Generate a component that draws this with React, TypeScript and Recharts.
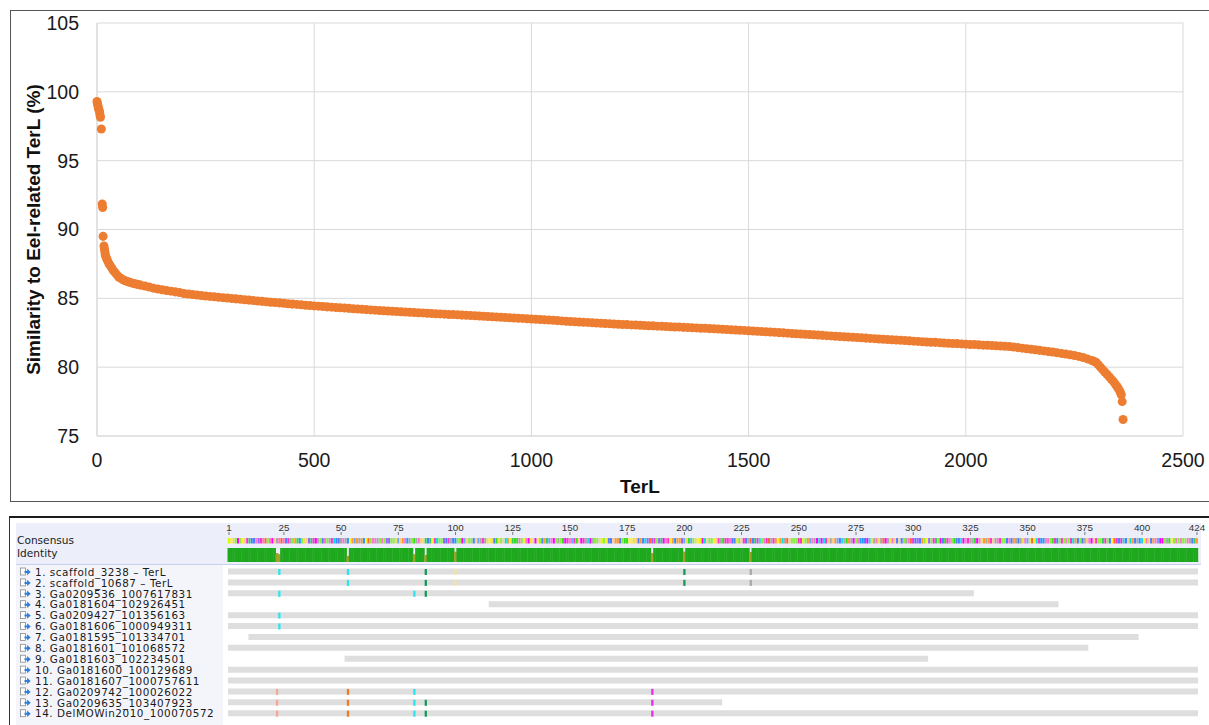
import React from "react";
import {
  ScatterChart,
  Scatter,
  XAxis,
  YAxis,
  ZAxis,
  CartesianGrid,
  BarChart,
  Bar,
  Cell,
} from "recharts";

// ---------- Top chart data ----------
const terlRank = [
  0, 1, 2, 3, 4, 5, 6, 7, 8, 10, 12, 13, 14, 16, 17, 18, 19, 20, 22, 24, 27, 30, 34, 38, 42, 46, 50, 55, 60, 65, 70, 75,
  80, 85, 90, 95, 100, 110, 120, 130, 140, 150, 160, 170, 180, 190,
  200, 210, 220, 230, 240, 250, 260, 270, 280, 290,
  300, 310, 320, 330, 340, 350, 360, 370, 380, 390,
  400, 410, 420, 430, 440, 450, 460, 470, 480, 490,
  500, 510, 520, 530, 540, 550, 560, 570, 580, 590,
  600, 610, 620, 630, 640, 650, 660, 670, 680, 690,
  700, 710, 720, 730, 740, 750, 760, 770, 780, 790,
  800, 810, 820, 830, 840, 850, 860, 870, 880, 890,
  900, 910, 920, 930, 940, 950, 960, 970, 980, 990,
  1000, 1010, 1020, 1030, 1040, 1050, 1060, 1070, 1080, 1090,
  1100, 1110, 1120, 1130, 1140, 1150, 1160, 1170, 1180, 1190,
  1200, 1210, 1220, 1230, 1240, 1250, 1260, 1270, 1280, 1290,
  1300, 1310, 1320, 1330, 1340, 1350, 1360, 1370, 1380, 1390,
  1400, 1410, 1420, 1430, 1440, 1450, 1460, 1470, 1480, 1490,
  1500, 1510, 1520, 1530, 1540, 1550, 1560, 1570, 1580, 1590,
  1600, 1610, 1620, 1630, 1640, 1650, 1660, 1670, 1680, 1690,
  1700, 1710, 1720, 1730, 1740, 1750, 1760, 1770, 1780, 1790,
  1800, 1810, 1820, 1830, 1840, 1850, 1860, 1870, 1880, 1890,
  1900, 1910, 1920, 1930, 1940, 1950, 1960, 1970, 1980, 1990,
  2000, 2010, 2020, 2030, 2040, 2050, 2060, 2070, 2080, 2090,
  2100, 2110, 2120, 2130, 2140, 2150, 2160, 2170, 2180, 2190,
  2200, 2210, 2220, 2230, 2240, 2250, 2260, 2270, 2280, 2290,
  2295, 2300, 2305, 2310, 2315, 2320, 2325, 2330, 2335, 2340, 2344, 2348, 2351, 2354, 2356, 2358, 2360, 2362,
];

const similarity = [
  99.3, 99.15, 99.0, 98.85, 98.75, 98.65, 98.5, 98.3, 98.15, 97.3, 91.85, 91.6, 89.5, 88.8, 88.6, 88.4, 88.2, 88.05,
  87.9, 87.75, 87.55, 87.4, 87.2, 87.0, 86.85, 86.7, 86.55, 86.45, 86.35, 86.28, 86.22, 86.17,
  86.12, 86.08, 86.04, 86.0, 85.96, 85.9, 85.82, 85.74, 85.68, 85.62, 85.57, 85.52, 85.47, 85.42,
  85.35, 85.31, 85.28, 85.24, 85.21, 85.17, 85.14, 85.11, 85.08, 85.05,
  85.02, 84.99, 84.96, 84.93, 84.9, 84.87, 84.84, 84.81, 84.78, 84.75,
  84.72, 84.69, 84.67, 84.64, 84.61, 84.58, 84.56, 84.53, 84.5, 84.48,
  84.45, 84.43, 84.4, 84.38, 84.36, 84.33, 84.31, 84.29, 84.27, 84.24,
  84.22, 84.2, 84.18, 84.16, 84.14, 84.12, 84.1, 84.08, 84.06, 84.04,
  84.02, 84.0, 83.99, 83.97, 83.95, 83.94, 83.92, 83.9, 83.88, 83.87,
  83.85, 83.83, 83.82, 83.8, 83.78, 83.77, 83.75, 83.73, 83.71, 83.7,
  83.68, 83.66, 83.64, 83.63, 83.61, 83.59, 83.57, 83.55, 83.54, 83.52,
  83.5, 83.48, 83.46, 83.44, 83.42, 83.4, 83.38, 83.36, 83.34, 83.32,
  83.3, 83.28, 83.26, 83.25, 83.23, 83.21, 83.19, 83.17, 83.16, 83.14,
  83.12, 83.1, 83.09, 83.07, 83.06, 83.04, 83.03, 83.01, 83.0, 82.98,
  82.97, 82.95, 82.94, 82.92, 82.91, 82.89, 82.88, 82.86, 82.85, 82.83,
  82.82, 82.8, 82.79, 82.77, 82.75, 82.74, 82.72, 82.7, 82.68, 82.67,
  82.65, 82.63, 82.61, 82.59, 82.57, 82.55, 82.53, 82.51, 82.49, 82.47,
  82.45, 82.43, 82.41, 82.39, 82.37, 82.35, 82.33, 82.31, 82.29, 82.27,
  82.25, 82.23, 82.21, 82.19, 82.17, 82.15, 82.13, 82.11, 82.09, 82.07,
  82.05, 82.03, 82.01, 81.99, 81.97, 81.95, 81.93, 81.91, 81.89, 81.87,
  81.85, 81.83, 81.81, 81.8, 81.78, 81.76, 81.74, 81.72, 81.71, 81.69,
  81.67, 81.65, 81.64, 81.62, 81.6, 81.59, 81.57, 81.55, 81.53, 81.52,
  81.5, 81.46, 81.42, 81.38, 81.34, 81.3, 81.26, 81.22, 81.18, 81.14,
  81.1, 81.05, 81.0, 80.95, 80.9, 80.85, 80.78, 80.7, 80.6, 80.48,
  80.42, 80.35, 80.18, 80.0, 79.82, 79.65, 79.48, 79.3, 79.12, 78.95, 78.78, 78.6, 78.45, 78.3, 78.15, 78.0, 77.5, 76.2,
];

const xTicks = [0, 500, 1000, 1500, 2000, 2500];
const yTicks = [75, 80, 85, 90, 95, 100, 105];

// ---------- Alignment panel data ----------
const alignmentLength = 424;
const consensusSeq =
  "MSTLDLSPEQRRAWEAFLADPVAFAREVLGIKLTPWQEDVLRALVENRRVAVKSGHG" +
  "VGKSFLAAVLALWWLLTHPGAKVLIVAPTQRQSENLLWREVRKLLDHPLLRPHVEVT" +
  "STRITLPNGSQIIALSADSPDSLRGQHADLVLIDEAHEIPDEVYDVLLPMLSRRPGG" +
  "RLIISSTPRGRNWFWELWQDAESGKGGWHTIHLTSMDNPLLSPEVIEEARRTLPERV" +
  "FRQEYLAEFVEGSGNVFPLLLEEMLGHAVDYDNEPVPGHRYVIGVDLAKKRDYTVAT" +
  "VFDVTAPRPRLVAFERWRGLSWLEQLDRIEALIRRYDAEVVIDATGVGEPVAELLRA" +
  "RGVRVTAHTFSNEKKAALIERLELALENGRLRVPADPELLQELRSFEREYRPNGRVK" +
  "YSAPRGAHDDLVISLALALLAVRQGNGKPTFEWLDLSKLSAGHSSGRFDFGNTQEVK" +
  "LEKMKGKLRNTHKGGWLSRSPKDPFDEVE";

const residueColors: Record<string, string> = {
  A: "#ff77cc", R: "#4f7dff", N: "#00e0e0", D: "#ff00ff", C: "#ffff00",
  Q: "#33cc66", E: "#ff33cc", G: "#ff9933", H: "#66aaff", I: "#33dd22",
  L: "#88ee44", K: "#2299ff", M: "#ccff00", F: "#ff6633", P: "#ffcc88",
  S: "#ffee33", T: "#eedd55", W: "#9966ff", Y: "#22dddd", V: "#a8a8a8",
};

const rulerTicks = [1, 25, 50, 75, 100, 125, 150, 175, 200, 225, 250, 275, 300, 325, 350, 375, 400, 424];

const identityDipPos = [22, 23, 53, 82, 87, 100, 186, 200, 229];
const identityDipValue = [64, 56, 44, 56, 51, 74, 64, 74, 72];

const rowNames = [
  "1. scaffold_3238 \u2013 TerL",
  "2. scaffold_10687 \u2013 TerL",
  "3. Ga0209536_1007617831",
  "4. Ga0181604_102926451",
  "5. Ga0209427_101356163",
  "6. Ga0181606_1000949311",
  "7. Ga0181595_101334701",
  "8. Ga0181601_101068572",
  "9. Ga0181603_102234501",
  "10. Ga0181600_100129689",
  "11. Ga0181607_1000757611",
  "12. Ga0209742_100026022",
  "13. Ga0209635_103407923",
  "14. DelMOWin2010_100070572",
];
const rowStart = [1, 1, 1, 115, 1, 1, 10, 1, 52, 1, 1, 1, 1, 1];
const rowEnd = [424, 424, 326, 363, 424, 424, 398, 376, 306, 424, 424, 424, 216, 424];

const variantRow = [1, 1, 1, 1, 1, 1, 2, 2, 2, 2, 2, 3, 3, 3, 5, 6, 12, 12, 12, 12, 13, 13, 13, 13, 13, 14, 14, 14, 14, 14];
const variantPos = [23, 53, 87, 100, 200, 229, 53, 87, 100, 200, 229, 23, 82, 87, 23, 23, 22, 53, 82, 186, 22, 53, 82, 87, 186, 22, 53, 82, 87, 186];
const variantColor = [
  "#2fe3f0", "#2fe3f0", "#169a5c", "#f2e3a8", "#169a5c", "#a9a9a9",
  "#2fe3f0", "#169a5c", "#f2e3a8", "#169a5c", "#a9a9a9",
  "#2fe3f0", "#2fe3f0", "#169a5c",
  "#2fe3f0", "#2fe3f0",
  "#f6a898", "#f07a22", "#2fe3f0", "#e62ee6",
  "#f6a898", "#f07a22", "#2fe3f0", "#169a5c", "#e62ee6",
  "#f6a898", "#f07a22", "#2fe3f0", "#169a5c", "#e62ee6",
];

// ---------- derived tables ----------
const scatterPoints = terlRank.map((x, i) => ({ x, y: similarity[i] }));
const residues = consensusSeq.slice(0, alignmentLength).split("");
const columnData = residues.map((aa, i) => {
  const pos = i + 1;
  const k = identityDipPos.indexOf(pos);
  return {
    pos,
    aa,
    strip: 1,
    identity: k >= 0 ? identityDipValue[k] : 100,
  };
});
const rowData = rowNames.map((name, i) => ({
  name,
  span: [rowStart[i] - 0.5, rowEnd[i] + 0.5],
}));
const variantData = variantPos.map((pos, i) => ({ pos, row: variantRow[i], color: variantColor[i] }));

const FONT = "'Liberation Sans', Arial, Helvetica, sans-serif";
const PANEL_FONT = "'DejaVu Sans', 'Liberation Sans', sans-serif";
const ORANGE = "#ED7D31";
const GRID = "#d9d9d9";
const IDENTITY_FULL = "#1ea81e";
const IDENTITY_PART = "#a3a127";

// alignment geometry (page pixels)
const ALN_LEFT = 227.86;
const ALN_RIGHT_MARGIN = 10.86;
const PAGE_W = 1209;

function RowTick(props: any) {
  const { y, payload } = props;
  return (
    <g>
      <rect x={20.5} y={y - 4} width={5} height={7} fill="#ffffff" stroke="#8a8a8a" strokeWidth={0.8} />
      <path d={`M24.5 ${y - 1} h2.6 v-2.2 l3.6 3.2 l-3.6 3.2 v-2.2 h-2.6 z`} fill="#2f7fd8" />
      <text x={35} y={y} dy="0.36em" fontSize={10.4} letterSpacing={0.55} fill="#1a1a1a" fontFamily={PANEL_FONT}>
        {payload.value}
      </text>
    </g>
  );
}

function VariantMark(props: any) {
  const { cx, cy, payload } = props;
  return <rect x={cx - 1.15} y={cy - 3} width={2.3} height={6} fill={payload.color} />;
}

// identity column: slightly widened so neighbouring columns join without seams
function IdentityColumn(props: any) {
  const { x, y, width, height, payload } = props;
  if (!height || height <= 0) return null;
  const fill = payload.identity >= 100 ? IDENTITY_FULL : IDENTITY_PART;
  return <rect x={x - 0.35} y={y} width={width + 0.7} height={height} fill={fill} />;
}

export default function App() {
  return (
    <div style={{ position: "absolute", left: 0, top: 0, width: PAGE_W, height: 725, background: "#fff", fontFamily: FONT, overflow: "hidden" }}>
      {/* ---------- Top scatter chart ---------- */}
      <div style={{ position: "absolute", left: 10, top: 10, width: 1220, height: 490, border: "1px solid #555" }}>
        <ScatterChart width={1198} height={490} margin={{ top: 12, right: 26, bottom: 0, left: 0 }}>
          <CartesianGrid stroke={GRID} strokeWidth={1} />
          <XAxis
            type="number"
            dataKey="x"
            domain={[0, 2500]}
            ticks={xTicks}
            interval={0}
            height={65}
            axisLine={{ stroke: GRID }}
            tickLine={false}
            tickSize={0}
            tickMargin={17}
            tick={{ fontSize: 19.5, fill: "#1a1a1a", fontFamily: FONT }}
            label={{ value: "TerL", position: "center", dy: 18, style: { fontSize: 19, fontWeight: 700, fill: "#111", fontFamily: FONT } }}
          />
          <YAxis
            type="number"
            dataKey="y"
            domain={[75, 105]}
            ticks={yTicks}
            interval={0}
            width={86}
            axisLine={{ stroke: GRID }}
            tickLine={false}
            tickSize={0}
            tickMargin={18}
            tick={{ fontSize: 19.5, fill: "#1a1a1a", fontFamily: FONT }}
            label={{
              value: "Similarity to Eel-related TerL (%)",
              angle: -90,
              position: "center",
              dx: -21,
              style: { fontSize: 19, fontWeight: 700, fill: "#111", fontFamily: FONT },
            }}
          />
          <ZAxis range={[66, 66]} />
          <Scatter data={scatterPoints} fill={ORANGE} isAnimationActive={false} />
        </ScatterChart>
      </div>

      {/* ---------- Bottom alignment panel ---------- */}
      <div style={{ position: "absolute", left: 9, top: 516, width: 1210, height: 220, borderTop: "2px solid #1c1c1c", borderLeft: "1px solid #333" }} />
      {/* header background */}
      <div style={{ position: "absolute", left: 16, top: 523, width: 1185, height: 41, background: "#eceff9" }} />
      <div style={{ position: "absolute", left: 16, top: 564, width: 1185, height: 1, background: "#c9d0ee" }} />
      {/* label column background */}
      <div style={{ position: "absolute", left: 16, top: 565, width: 207, height: 160, background: "#f4f5fb" }} />
      <div style={{ position: "absolute", left: 17, top: 534, fontSize: 10.6, color: "#1a1a1a", lineHeight: "13px", fontFamily: PANEL_FONT }}>Consensus</div>
      <div style={{ position: "absolute", left: 17, top: 546.5, fontSize: 10.6, color: "#1a1a1a", lineHeight: "13px", fontFamily: PANEL_FONT }}>Identity</div>

      {/* ruler + consensus strip */}
      <div style={{ position: "absolute", left: 0, top: 505, width: PAGE_W, height: 38.5 }}>
        <BarChart
          width={PAGE_W}
          height={38.5}
          data={columnData}
          margin={{ top: 0, right: ALN_RIGHT_MARGIN, bottom: 0, left: ALN_LEFT }}
          barCategoryGap={0}
          barGap={0}
        >
          <XAxis
            dataKey="pos"
            type="category"
            orientation="top"
            height={30}
            ticks={rulerTicks}
            interval={0}
            axisLine={false}
            tickLine={{ stroke: "#777" }}
            tickSize={3}
            tickMargin={1}
            tick={{ fontSize: 9.8, fill: "#333", fontFamily: FONT }}
          />
          <YAxis hide domain={[0, 1.55]} />
          <Bar dataKey="strip" barSize={2.3} isAnimationActive={false}>
            {columnData.map((d) => (
              <Cell key={d.pos} fill={residueColors[d.aa] || "#cccccc"} />
            ))}
          </Bar>
        </BarChart>
      </div>

      {/* identity bar */}
      <div style={{ position: "absolute", left: 0, top: 548, width: PAGE_W, height: 14 }}>
        <BarChart
          width={PAGE_W}
          height={14}
          data={columnData}
          margin={{ top: 0, right: ALN_RIGHT_MARGIN, bottom: 0, left: ALN_LEFT }}
          barCategoryGap={0}
          barGap={0}
        >
          <XAxis dataKey="pos" type="category" hide />
          <YAxis hide domain={[0, 100]} />
          <Bar dataKey="identity" shape={<IdentityColumn />} isAnimationActive={false} />
        </BarChart>
      </div>

      {/* sequence rows */}
      <div style={{ position: "absolute", left: 0, top: 560, width: PAGE_W, height: 165 }}>
        <BarChart
          width={PAGE_W}
          height={165}
          data={rowData}
          layout="vertical"
          margin={{ top: 6.55, right: ALN_RIGHT_MARGIN, bottom: 5.85, left: 0 }}
        >
          <XAxis type="number" domain={[0.5, alignmentLength + 0.5]} hide allowDataOverflow />
          <YAxis
            type="category"
            dataKey="name"
            width={ALN_LEFT}
            axisLine={false}
            tickLine={false}
            interval={0}
            tick={<RowTick />}
          />
          <Bar dataKey="span" fill="#dedede" barSize={6} isAnimationActive={false} />
        </BarChart>
      </div>

      {/* variant marks overlay */}
      <div style={{ position: "absolute", left: 0, top: 560, width: PAGE_W, height: 165 }}>
        <ScatterChart
          width={PAGE_W}
          height={165}
          margin={{ top: 6.55, right: ALN_RIGHT_MARGIN, bottom: 5.85, left: ALN_LEFT }}
        >
          <XAxis type="number" dataKey="pos" domain={[0.5, alignmentLength + 0.5]} hide />
          <YAxis type="number" dataKey="row" domain={[0.5, 14.5]} reversed hide />
          <Scatter data={variantData} shape={<VariantMark />} isAnimationActive={false} />
        </ScatterChart>
      </div>
    </div>
  );
}
